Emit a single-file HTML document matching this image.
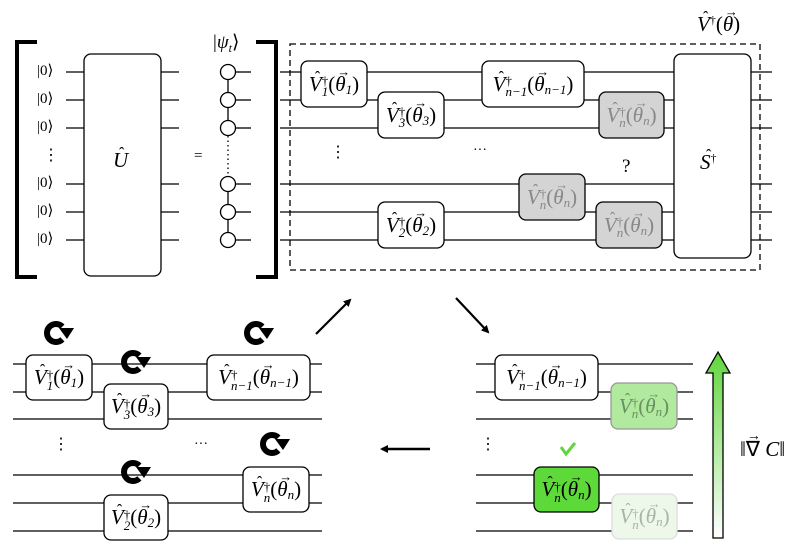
<!DOCTYPE html>
<html><head><meta charset="utf-8">
<style>
html,body{margin:0;padding:0;background:#fff;}
#w{position:relative;width:797px;height:552px;overflow:hidden;font-family:"Liberation Serif",serif;}
svg{position:absolute;left:0;top:0;}
.lb{position:absolute;display:flex;align-items:center;justify-content:center;white-space:nowrap;font-size:21px;line-height:1;}
.lb i{font-style:italic;}
.st{display:inline-flex;flex-direction:column;font-size:13px;line-height:11px;position:relative;top:2px;}
.st span{display:block;text-align:left;}
.sm{font-size:13px;position:relative;top:5px;font-style:italic;}
.th{position:relative;display:inline-block;font-style:italic;}
.th b{position:absolute;left:2px;top:-9px;font-size:13px;font-weight:normal;font-style:normal;}
.hat{position:relative;display:inline-block;font-style:italic;}
.hat b{position:absolute;left:6px;top:-4px;font-size:16px;font-weight:normal;font-style:normal;}
.t{position:absolute;white-space:nowrap;line-height:1;}
</style></head><body><div id="w">
<svg width="797" height="552" viewBox="0 0 797 552">
<defs>
<linearGradient id="gr" x1="0" y1="1" x2="0" y2="0"><stop offset="0" stop-color="#ffffff"/><stop offset="1" stop-color="#5fd63c"/></linearGradient>
<marker id="ah" markerWidth="8" markerHeight="8" refX="6" refY="4" orient="auto" markerUnits="userSpaceOnUse"><path d="M0,0 L8,4 L0,8 z" fill="#000"/></marker>
</defs>
<g stroke="#000" stroke-width="1.3" fill="none" id="g"></g>
</svg>
<div id="labels"></div>
</div>
<script>
const g=document.getElementById('g'),L=document.getElementById('labels');
function el(t,a,p){const e=document.createElementNS('http://www.w3.org/2000/svg',t);for(const k in a)e.setAttribute(k,a[k]);(p||g).appendChild(e);return e;}
function line(x1,y1,x2,y2,o){return el('line',Object.assign({x1,y1,x2,y2},o||{}));}
function box(x,y,w,h,fill,stroke){return el('rect',{x,y,width:w,height:h,rx:7,fill:fill||'#fff',stroke:stroke||'#000'});}
const hat=c=>'<span class="hat">'+c+'<b>ˆ</b></span>';
const V=hat('V');
const TH='<span class="th">θ<b>→</b></span>';
function lab(x,y,w,h,sub,thsub,color){
 const d=document.createElement('div');d.className='lb';
 Object.assign(d.style,{left:x+'px',top:y+'px',width:w+'px',height:h+'px',color:color||'#000'});
 d.innerHTML=V+'<span class="st"><span>†</span><span style="font-style:italic">'+sub+'</span></span>('+TH+'<span class="sm">'+thsub+'</span>)';
 L.appendChild(d);
}
function txt(x,y,s,fs,extra){const d=document.createElement('div');d.className='t';d.style.left=x+'px';d.style.top=y+'px';d.style.fontSize=fs+'px';if(extra)d.style.cssText+=extra;d.innerHTML=s;L.appendChild(d);}
function rot(cx,cy){
 const r=9;
 const a1=45*Math.PI/180,a2=315*Math.PI/180;
 el('path',{d:`M${cx+r*Math.cos(a1)},${cy+r*Math.sin(a1)} A${r},${r} 0 1 1 ${cx+r*Math.cos(a2)},${cy+r*Math.sin(a2)}`,'stroke-width':6});
 el('path',{d:`M${cx+3},${cy-5} L${cx+18},${cy-5} L${cx+11},${cy+6} z`,fill:'#000',stroke:'none'});
}
// ---- top left
const ys=[72,100,128,184,212,240];
el('path',{d:'M37,42 L17,42 L17,277 L37,277','stroke-width':4});
el('path',{d:'M256,42 L276,42 L276,277 L256,277','stroke-width':4});
ys.forEach(y=>{line(66,y,84,y);line(161,y,179,y);line(235,y,251,y);txt(37,y-8,'|0⟩',15);});
txt(43,148,'⋮',16);
box(84,54,77,222);
txt(113,150,hat('U'),21);
txt(194,149,'=',15);
line(228,72,228,128);line(228,184,228,240);
line(228,136,228,176,{'stroke-dasharray':'1.5,3'});
ys.forEach(y=>el('circle',{cx:228,cy:y,r:7.5,fill:'#fff'}));
txt(213,33,'|<i>ψ<span style="font-size:12px;position:relative;top:4px">t</span></i>⟩',19);
// ---- top right
ys.forEach(y=>line(280,y,772,y));
el('rect',{x:290,y:44,width:470,height:226,'stroke-dasharray':'6,4'});
box(301,61,66,46);lab(301,61,66,46,'1','1');
box(378,92,66,46);lab(378,92,66,46,'3','3');
box(482,61,102,46);lab(482,61,102,46,'n−1','n−1');
box(599,92,65,46,'#d4d4d4');lab(599,92,65,46,'n','n','#888');
box(519,174,66,46,'#d4d4d4');lab(519,174,66,46,'n','n','#888');
box(378,202,66,46);lab(378,202,66,46,'2','2');
box(596,202,66,46,'#d4d4d4');lab(596,202,66,46,'n','n','#888');
box(674,54,77,204);
txt(700,152,hat('S')+'<span style="font-size:12px;position:relative;top:-7px">†</span>',21);
txt(697,14,V+'<span style="font-size:12px;position:relative;top:-7px">†</span>('+TH+')',21);
txt(330,145,'⋮',16);txt(473,144,'···',14);
txt(622,157,'?',19);
// ---- bottom left
const yb=[364,392,419,475,503,531];
yb.forEach(y=>line(13,y,322,y));
box(26,355,66,45);lab(26,355,66,45,'1','1');
box(104,384,64,45);lab(104,384,64,45,'3','3');
box(207,355,103,45);lab(207,355,103,45,'n−1','n−1');
box(243,467,66,45);lab(243,467,66,45,'n','n');
box(104,495,64,45);lab(104,495,64,45,'2','2');
rot(56,333);rot(133,362);rot(256,333);rot(133,472);rot(272,444);
txt(53,437,'⋮',16);txt(194,438,'···',14);
// arrows
line(316,334,350,300,{'stroke-width':2.2,'marker-end':'url(#ah)'});
line(456,298,488,332,{'stroke-width':2.2,'marker-end':'url(#ah)'});
line(430,449,382,449,{'stroke-width':2.5,'marker-end':'url(#ah)'});
// ---- bottom right
yb.forEach(y=>line(476,y,693,y));
box(495,355,103,45);lab(495,355,103,45,'n−1','n−1');
box(611,383,66,46,'#b1e99f','#999');lab(611,383,66,46,'n','n','#6a8f60');
box(534,467,65,45,'#5ed93a');lab(534,467,65,45,'n','n');
box(612,494,65,45,'#eef8ea','#ddd');lab(612,494,65,45,'n','n','#aab4a6');
el('path',{d:'M561,447 L566,454 L575,443','stroke':'#5fd63c','stroke-width':3});
txt(480,437,'⋮',16);
el('path',{d:'M713,538 L713,373 L706,373 L718,352 L730,373 L723,373 L723,538 Z',fill:'url(#gr)','stroke-width':1.3});
txt(740,439,'‖<span style="position:relative;display:inline-block"><span style="position:absolute;left:1px;top:-9px;font-size:14px">→</span>∇</span> <i>C</i>‖',21);
</script>
</body></html>
